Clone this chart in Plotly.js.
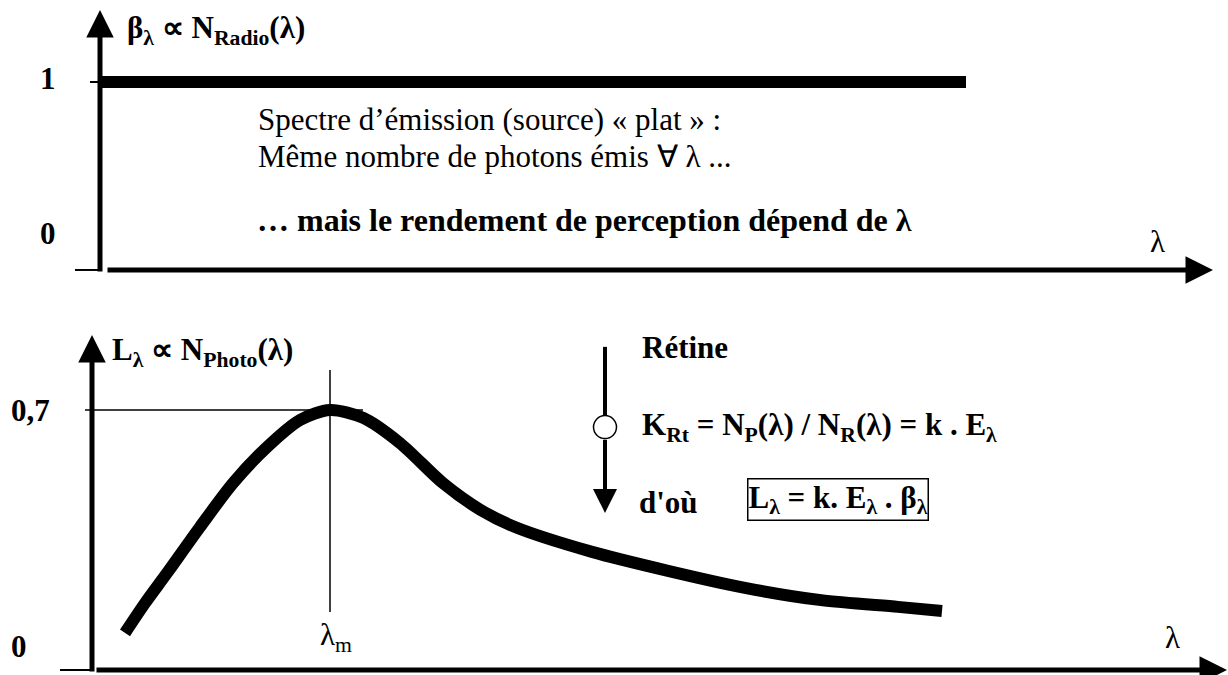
<!DOCTYPE html>
<html>
<head>
<meta charset="utf-8">
<script src="https://cdn.plot.ly/plotly-3.0.1.min.js"></script>
<style>
  html, body { margin: 0; padding: 0; background: #fff; }
  #chart { width: 1228px; height: 675px; }
</style>
</head>
<body>
<div id="chart"></div>
<script>
// top panel : flat source spectrum beta(lambda)
var flatLambda = [0, 86.6];
var flatBeta = [1, 1];
var topTicks = ['0', '1'];

// bottom panel : perceived spectrum L(lambda), arbitrary lambda units
var curveLambda = [3.3, 5.3, 7.5, 10.8, 14.1, 17.5, 20.8, 23.8, 27.1, 30.8, 35.1, 38.8, 42.3, 50.0, 57.6, 65.3, 72.9, 80.6, 85.0];
var curveL = [0.100, 0.180, 0.261, 0.385, 0.503, 0.600, 0.673, 0.700, 0.679, 0.611, 0.503, 0.432, 0.385, 0.318, 0.267, 0.221, 0.188, 0.170, 0.159];
var bottomTicks = ['0', '0,7'];
var lambdaMax = 23.8;
var peakL = 0.7;

var serif = 'Liberation Serif, Times New Roman, serif';
var black = '#000';

function label(text, x, y, xr, yr, opts) {
  var a = {
    text: text, x: x, y: y, xref: xr, yref: yr,
    showarrow: false, xanchor: 'left', yanchor: 'middle',
    font: {family: serif, size: 31, color: black}
  };
  for (var k in opts) { a[k] = opts[k]; }
  return a;
}

function arrow(x0, y0, x1, y1, xr, yr, w, size) {
  return {
    text: '', x: x1, y: y1, ax: x0, ay: y0,
    xref: xr, yref: yr, axref: xr, ayref: yr,
    showarrow: true, arrowhead: 2, arrowsize: size, arrowwidth: w, arrowcolor: black
  };
}

function seg(x0, y0, x1, y1, xr, yr, w) {
  return {type: 'line', x0: x0, y0: y0, x1: x1, y1: y1, xref: xr, yref: yr,
          line: {color: black, width: w}};
}

var flat = {
  x: flatLambda, y: flatBeta, xaxis: 'x', yaxis: 'y',
  mode: 'lines', line: {color: black, width: 12}, hoverinfo: 'skip'
};

var curve = {
  x: curveLambda, y: curveL, xaxis: 'x2', yaxis: 'y2',
  mode: 'lines', line: {color: black, width: 12, shape: 'spline', smoothing: 0.8}, hoverinfo: 'skip'
};

// small circle on the retina arrow
var retinaX = 51.3;
var retinaY = 0.654;
var retina = {
  x: [retinaX], y: [retinaY], xaxis: 'x2', yaxis: 'y2', mode: 'markers',
  marker: {size: 23, color: '#fff', line: {color: black, width: 1.5}}, hoverinfo: 'skip'
};

var hidden = {visible: false, fixedrange: true};
var regular = {family: serif, size: 31, color: black};

function tick(t) { return '<b>' + t + '</b>'; }

var layout = {
  width: 1228, height: 675,
  margin: {l: 0, r: 0, t: 0, b: 0},
  paper_bgcolor: '#fff', plot_bgcolor: '#fff',
  showlegend: false,
  xaxis: Object.assign({range: [-10, 112.8], domain: [0, 1], anchor: 'y'}, hidden),
  yaxis: Object.assign({range: [-0.1596, 1.4362], domain: [0.5556, 1], anchor: 'x'}, hidden),
  xaxis2: Object.assign({range: [-9.2, 113.6], domain: [0, 1], anchor: 'y2'}, hidden),
  yaxis2: Object.assign({range: [-0.01346, 0.99623], domain: [0, 0.5556], anchor: 'x2'}, hidden),
  shapes: [
    seg(-2.5, 0, 0, 0, 'x', 'y', 2),
    seg(-1, 1, 0, 1, 'x', 'y', 2),
    seg(-3.2, 0, 0, 0, 'x2', 'y2', 2),
    seg(-0.7, peakL, 27.1, peakL, 'x2', 'y2', 1.5),
    seg(lambdaMax, 0.808, lambdaMax, 0.156, 'x2', 'y2', 1.5),
    // upper part of the retina arrow, down to the circle
    seg(retinaX, 0.870, retinaX, retinaY + 0.03, 'x2', 'y2', 4)
  ],
  annotations: [
    // axes
    arrow(0, -0.016, 0, 1.383, 'x', 'y', 5, 1.1),
    arrow(0.6, 0, 111.3, 0, 'x', 'y', 5, 1.1),
    arrow(0, -0.008, 0, 0.902, 'x2', 'y2', 5, 1.1),
    arrow(0.3, 0, 113.5, 0, 'x2', 'y2', 5, 1.1),
    // lower part of the retina arrow
    arrow(retinaX, retinaY - 0.03, retinaX, 0.423, 'x2', 'y2', 4, 1.2),

    // top panel texts
    label('<b>\u03b2<sub>\u03bb</sub> \u221d N<sub>Radio</sub>(\u03bb)</b>', 2.5, 1.277, 'x', 'y'),
    label(tick(topTicks[1]), -5.2, 1.02, 'x', 'y', {xanchor: 'center'}),
    label(tick(topTicks[0]), -5.2, 0, 'x', 'y', {xanchor: 'center', yshift: 36}),
    label('\u03bb', 105.7, 0, 'x', 'y', {xanchor: 'center', yshift: 28}),
    label('Spectre d\u2019\u00e9mission (source) \u00ab plat \u00bb :', 15.6, 0.798, 'x', 'y', {font: regular}),
    label('M\u00eame nombre de photons \u00e9mis \u2200 \u03bb ...', 15.6, 0.606, 'x', 'y', {font: regular}),
    label('<b>\u2026 mais le rendement de perception d\u00e9pend de \u03bb</b>', 15.5, 0.266, 'x', 'y', {font: {family: serif, size: 32, color: black}}),

    // bottom panel texts
    label('<b>L<sub>\u03bb</sub> \u221d N<sub>Photo</sub>(\u03bb)</b>', 1.8, 0.856, 'x2', 'y2'),
    label(tick(bottomTicks[1]), -6.2, peakL, 'x2', 'y2', {xanchor: 'center'}),
    label(tick(bottomTicks[0]), -7.3, 0, 'x2', 'y2', {xanchor: 'center', yshift: 24}),
    label('\u03bb<sub>m</sub>', lambdaMax + 0.6, 0.089, 'x2', 'y2', {xanchor: 'center'}),
    label('\u03bb', 108, 0, 'x2', 'y2', {xanchor: 'center', yshift: 33}),
    label('<b>R\u00e9tine</b>', 54.8, 0.867, 'x2', 'y2'),
    label('<b>K<sub>Rt</sub> = N<sub>P</sub>(\u03bb) / N<sub>R</sub>(\u03bb) = k . E<sub>\u03bb</sub></b>', 54.8, 0.654, 'x2', 'y2'),
    label('<b>d\'o\u00f9</b>', 54.5, 0.450, 'x2', 'y2'),
    label('<b>L<sub>\u03bb</sub> = k. E<sub>\u03bb</sub> . \u03b2<sub>\u03bb</sub></b>', 74.6, 0.458, 'x2', 'y2',
      {xanchor: 'center', bordercolor: black, borderwidth: 1.5, borderpad: 0})
  ]
};

Plotly.newPlot('chart', [flat, curve, retina], layout, {displayModeBar: false, staticPlot: true});
</script>
</body>
</html>
